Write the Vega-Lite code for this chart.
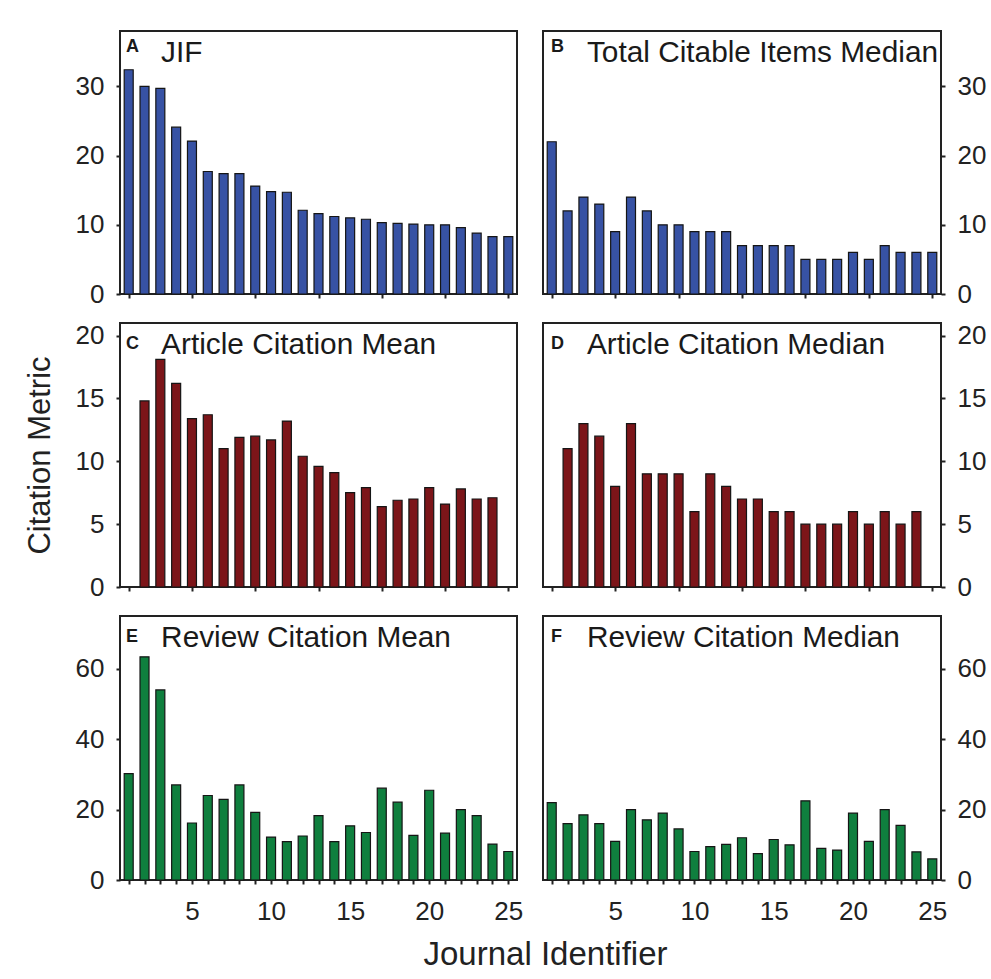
{
  "$schema": "https://vega.github.io/schema/vega-lite/v6.json",
  "padding": {"left": 23, "top": 30, "right": 5, "bottom": 5},
  "background": "white",
  "bounds": "flush",
  "columns": 2,
  "spacing": {"row": 29, "column": 26},
  "datasets": {
    "journals": [
      {"journal": 1, "jif": 32.4, "cit": 22, "rm": 30.2, "rmed": 22},
      {"journal": 2, "jif": 30.0, "cit": 12, "am": 14.8, "amed": 11, "rm": 63.4, "rmed": 16},
      {"journal": 3, "jif": 29.7, "cit": 14, "am": 18.1, "amed": 13, "rm": 54.0, "rmed": 18.5},
      {"journal": 4, "jif": 24.1, "cit": 13, "am": 16.2, "amed": 12, "rm": 27.0, "rmed": 16},
      {"journal": 5, "jif": 22.1, "cit": 9, "am": 13.4, "amed": 8, "rm": 16.2, "rmed": 11},
      {"journal": 6, "jif": 17.7, "cit": 14, "am": 13.7, "amed": 13, "rm": 24.0, "rmed": 20},
      {"journal": 7, "jif": 17.4, "cit": 12, "am": 11.0, "amed": 9, "rm": 22.9, "rmed": 17.1},
      {"journal": 8, "jif": 17.4, "cit": 10, "am": 11.9, "amed": 9, "rm": 27.0, "rmed": 19},
      {"journal": 9, "jif": 15.6, "cit": 10, "am": 12.0, "amed": 9, "rm": 19.2, "rmed": 14.5},
      {"journal": 10, "jif": 14.8, "cit": 9, "am": 11.7, "amed": 6, "rm": 12.2, "rmed": 8.1},
      {"journal": 11, "jif": 14.7, "cit": 9, "am": 13.2, "amed": 9, "rm": 10.9, "rmed": 9.5},
      {"journal": 12, "jif": 12.1, "cit": 9, "am": 10.4, "amed": 8, "rm": 12.5, "rmed": 10.1},
      {"journal": 13, "jif": 11.6, "cit": 7, "am": 9.6, "amed": 7, "rm": 18.3, "rmed": 12},
      {"journal": 14, "jif": 11.2, "cit": 7, "am": 9.1, "amed": 7, "rm": 10.9, "rmed": 7.5},
      {"journal": 15, "jif": 11.0, "cit": 7, "am": 7.5, "amed": 6, "rm": 15.4, "rmed": 11.5},
      {"journal": 16, "jif": 10.8, "cit": 7, "am": 7.9, "amed": 6, "rm": 13.5, "rmed": 10},
      {"journal": 17, "jif": 10.3, "cit": 5, "am": 6.4, "amed": 5, "rm": 26.1, "rmed": 22.5},
      {"journal": 18, "jif": 10.2, "cit": 5, "am": 6.9, "amed": 5, "rm": 22.1, "rmed": 9},
      {"journal": 19, "jif": 10.1, "cit": 5, "am": 7.0, "amed": 5, "rm": 12.7, "rmed": 8.5},
      {"journal": 20, "jif": 10.0, "cit": 6, "am": 7.9, "amed": 6, "rm": 25.5, "rmed": 19},
      {"journal": 21, "jif": 10.0, "cit": 5, "am": 6.6, "amed": 5, "rm": 13.3, "rmed": 11},
      {"journal": 22, "jif": 9.6, "cit": 7, "am": 7.8, "amed": 6, "rm": 20.0, "rmed": 20},
      {"journal": 23, "jif": 8.8, "cit": 6, "am": 7.0, "amed": 5, "rm": 18.3, "rmed": 15.5},
      {"journal": 24, "jif": 8.3, "cit": 6, "am": 7.1, "amed": 6, "rm": 10.2, "rmed": 8},
      {"journal": 25, "jif": 8.3, "cit": 6, "rm": 8.1, "rmed": 6}
    ],
    "labels": [
      {"panel": "A", "letter": "A", "name": "JIF"},
      {"panel": "B", "letter": "B", "name": "Total Citable Items Median"},
      {"panel": "C", "letter": "C", "name": "Article Citation Mean"},
      {"panel": "D", "letter": "D", "name": "Article Citation Median"},
      {"panel": "E", "letter": "E", "name": "Review Citation Mean"},
      {"panel": "F", "letter": "F", "name": "Review Citation Median"}
    ]
  },
  "config": {
    "font": "Liberation Sans",
    "view": {"stroke": "#222222", "strokeWidth": 2},
    "axis": {
      "domain": false, "grid": false, "ticks": true,
      "tickColor": "#222222", "tickWidth": 2, "tickSize": 4,
      "labelFont": "Liberation Sans", "labelFontSize": 26, "labelColor": "#222222", "labelPadding": 12,
      "labelFlush": false,
      "titleFont": "Liberation Sans", "titleFontSize": 31, "titleFontWeight": "normal", "titleColor": "#222222"
    },
    "bar": {"stroke": "#151515", "strokeWidth": 1.2},
    "text": {"color": "#1a1a1a"}
  },
  "concat": [
    {
      "width": 397, "height": 263,
      "layer": [
        {
          "data": {"name": "journals"},
          "mark": {"type": "bar", "width": 9, "color": "#3752a4"},
          "encoding": {
            "x": {"field": "journal", "type": "quantitative", "scale": {"domain": [0.45, 25.55], "nice": false, "padding": 0}, "axis": {"values": [1,2,3,4,5,6,7,8,9,10,11,12,13,14,15,16,17,18,19,20,21,22,23,24,25], "labels": false, "title": null}},
            "y": {"field": "jif", "type": "quantitative", "scale": {"domain": [0, 38], "nice": false}, "axis": {"values": [0, 10, 20, 30], "title": null, "orient": "left"}}
          }
        },
        {
          "data": {"name": "labels"},
          "transform": [{"filter": "datum.panel === 'A'"}],
          "mark": {"type": "text", "align": "left", "baseline": "alphabetic", "fontWeight": "bold", "fontSize": 18},
          "encoding": {"x": {"datum": 0.83}, "y": {"datum": 35.0}, "text": {"field": "letter"}}
        },
        {
          "data": {"name": "labels"},
          "transform": [{"filter": "datum.panel === 'A'"}],
          "mark": {"type": "text", "align": "left", "baseline": "alphabetic", "fontSize": 29.8},
          "encoding": {"x": {"datum": 3.05}, "y": {"datum": 33.56}, "text": {"field": "name"}}
        }
      ]
    },
    {
      "width": 398, "height": 263,
      "layer": [
        {
          "data": {"name": "journals"},
          "mark": {"type": "bar", "width": 9, "color": "#3752a4"},
          "encoding": {
            "x": {"field": "journal", "type": "quantitative", "scale": {"domain": [0.45, 25.55], "nice": false, "padding": 0}, "axis": {"values": [1,2,3,4,5,6,7,8,9,10,11,12,13,14,15,16,17,18,19,20,21,22,23,24,25], "labels": false, "title": null}},
            "y": {"field": "cit", "type": "quantitative", "scale": {"domain": [0, 38], "nice": false}, "axis": {"values": [0, 10, 20, 30], "title": null, "orient": "right"}}
          }
        },
        {
          "data": {"name": "labels"},
          "transform": [{"filter": "datum.panel === 'B'"}],
          "mark": {"type": "text", "align": "left", "baseline": "alphabetic", "fontWeight": "bold", "fontSize": 18},
          "encoding": {"x": {"datum": 0.95}, "y": {"datum": 35.0}, "text": {"field": "letter"}}
        },
        {
          "data": {"name": "labels"},
          "transform": [{"filter": "datum.panel === 'B'"}],
          "mark": {"type": "text", "align": "left", "baseline": "alphabetic", "fontSize": 29.8},
          "encoding": {"x": {"datum": 3.22}, "y": {"datum": 33.56}, "text": {"field": "name"}}
        }
      ]
    },
    {
      "width": 397, "height": 264,
      "layer": [
        {
          "data": {"name": "journals"},
          "mark": {"type": "bar", "width": 9, "color": "#7c1519"},
          "encoding": {
            "x": {"field": "journal", "type": "quantitative", "scale": {"domain": [0.45, 25.55], "nice": false, "padding": 0}, "axis": {"values": [1,2,3,4,5,6,7,8,9,10,11,12,13,14,15,16,17,18,19,20,21,22,23,24,25], "labels": false, "title": null}},
            "y": {"field": "am", "type": "quantitative", "scale": {"domain": [0, 21], "nice": false}, "axis": {"values": [0, 5, 10, 15, 20], "title": "Citation Metric", "titlePadding": 19, "orient": "left"}}
          }
        },
        {
          "data": {"name": "labels"},
          "transform": [{"filter": "datum.panel === 'C'"}],
          "mark": {"type": "text", "align": "left", "baseline": "alphabetic", "fontWeight": "bold", "fontSize": 18},
          "encoding": {"x": {"datum": 0.83}, "y": {"datum": 18.9}, "text": {"field": "letter"}}
        },
        {
          "data": {"name": "labels"},
          "transform": [{"filter": "datum.panel === 'C'"}],
          "mark": {"type": "text", "align": "left", "baseline": "alphabetic", "fontSize": 29.8},
          "encoding": {"x": {"datum": 3.05}, "y": {"datum": 18.51}, "text": {"field": "name"}}
        }
      ]
    },
    {
      "width": 398, "height": 264,
      "layer": [
        {
          "data": {"name": "journals"},
          "mark": {"type": "bar", "width": 9, "color": "#7c1519"},
          "encoding": {
            "x": {"field": "journal", "type": "quantitative", "scale": {"domain": [0.45, 25.55], "nice": false, "padding": 0}, "axis": {"values": [1,2,3,4,5,6,7,8,9,10,11,12,13,14,15,16,17,18,19,20,21,22,23,24,25], "labels": false, "title": null}},
            "y": {"field": "amed", "type": "quantitative", "scale": {"domain": [0, 21], "nice": false}, "axis": {"values": [0, 5, 10, 15, 20], "title": null, "orient": "right"}}
          }
        },
        {
          "data": {"name": "labels"},
          "transform": [{"filter": "datum.panel === 'D'"}],
          "mark": {"type": "text", "align": "left", "baseline": "alphabetic", "fontWeight": "bold", "fontSize": 18},
          "encoding": {"x": {"datum": 0.95}, "y": {"datum": 18.9}, "text": {"field": "letter"}}
        },
        {
          "data": {"name": "labels"},
          "transform": [{"filter": "datum.panel === 'D'"}],
          "mark": {"type": "text", "align": "left", "baseline": "alphabetic", "fontSize": 29.8},
          "encoding": {"x": {"datum": 3.22}, "y": {"datum": 18.51}, "text": {"field": "name"}}
        }
      ]
    },
    {
      "width": 397, "height": 264,
      "resolve": {"axis": {"x": "independent", "y": "independent"}},
      "layer": [
        {
          "data": {"name": "journals"},
          "mark": {"type": "bar", "width": 9, "color": "#0f7f3e"},
          "encoding": {
            "x": {"field": "journal", "type": "quantitative", "scale": {"domain": [0.45, 25.55], "nice": false, "padding": 0}, "axis": {"orient": "bottom", "values": [1,2,3,4,5,6,7,8,9,10,11,12,13,14,15,16,17,18,19,20,21,22,23,24,25], "labels": false, "title": null}},
            "y": {"field": "rm", "type": "quantitative", "scale": {"domain": [0, 75], "nice": false}, "axis": {"values": [0, 20, 40, 60], "title": null, "orient": "left"}}
          }
        },
        {
          "data": {"name": "labels"},
          "transform": [{"filter": "datum.panel === 'E'"}],
          "mark": {"type": "text", "align": "left", "baseline": "alphabetic", "fontWeight": "bold", "fontSize": 18},
          "encoding": {
            "x": {"datum": 0.83, "axis": {"orient": "bottom", "values": [5, 10, 15, 20, 25], "ticks": false, "tickSize": 0, "labelPadding": 18, "labelOverlap": false, "title": "Journal Identifier", "titleFontSize": 33, "titleX": 425, "titlePadding": 14}},
            "y": {"datum": 67.7, "axis": null},
            "text": {"field": "letter"}
          }
        },
        {
          "data": {"name": "labels"},
          "transform": [{"filter": "datum.panel === 'E'"}],
          "mark": {"type": "text", "align": "left", "baseline": "alphabetic", "fontSize": 29.8},
          "encoding": {"x": {"datum": 3.05, "axis": null}, "y": {"datum": 66.28, "axis": null}, "text": {"field": "name"}}
        }
      ]
    },
    {
      "width": 398, "height": 264,
      "resolve": {"axis": {"x": "independent", "y": "independent"}},
      "layer": [
        {
          "data": {"name": "journals"},
          "mark": {"type": "bar", "width": 9, "color": "#0f7f3e"},
          "encoding": {
            "x": {"field": "journal", "type": "quantitative", "scale": {"domain": [0.45, 25.55], "nice": false, "padding": 0}, "axis": {"orient": "bottom", "values": [1,2,3,4,5,6,7,8,9,10,11,12,13,14,15,16,17,18,19,20,21,22,23,24,25], "labels": false, "title": null}},
            "y": {"field": "rmed", "type": "quantitative", "scale": {"domain": [0, 75], "nice": false}, "axis": {"values": [0, 20, 40, 60], "title": null, "orient": "right"}}
          }
        },
        {
          "data": {"name": "labels"},
          "transform": [{"filter": "datum.panel === 'F'"}],
          "mark": {"type": "text", "align": "left", "baseline": "alphabetic", "fontWeight": "bold", "fontSize": 18},
          "encoding": {
            "x": {"datum": 0.95, "axis": {"orient": "bottom", "values": [5, 10, 15, 20, 25], "ticks": false, "tickSize": 0, "labelPadding": 18, "labelOverlap": false, "title": null}},
            "y": {"datum": 67.7, "axis": null},
            "text": {"field": "letter"}
          }
        },
        {
          "data": {"name": "labels"},
          "transform": [{"filter": "datum.panel === 'F'"}],
          "mark": {"type": "text", "align": "left", "baseline": "alphabetic", "fontSize": 29.8},
          "encoding": {"x": {"datum": 3.22, "axis": null}, "y": {"datum": 66.28, "axis": null}, "text": {"field": "name"}}
        }
      ]
    }
  ]
}
